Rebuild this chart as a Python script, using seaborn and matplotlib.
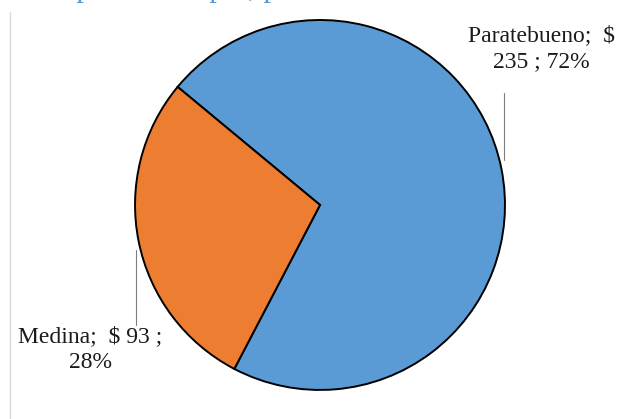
import numpy as np
import matplotlib.pyplot as plt
import seaborn as sns

# Data
municipios = ['Paratebueno', 'Medina']
valores = [235, 93]
colores = ['#5B9BD5', '#ED7D31']
titulo = 'Recaudo por municipio, periodo'

sns.set_style('white')
plt.rcParams['font.family'] = ['Liberation Serif', 'DejaVu Serif']

fig = plt.figure(figsize=(6.23, 4.19), dpi=100)
ax = fig.add_axes([0, 0, 1, 1])

total = sum(valores)
pct = [round(v / total * 100) for v in valores]

wedges, _ = ax.pie(valores, colors=colores, startangle=-117.6, counterclock=True,
                   wedgeprops=dict(edgecolor='black', linewidth=1.4), radius=1.0)

ax.set_xlim(-1.730, 1.638)
ax.set_ylim(-1.157, 1.108)
ax.set_aspect('equal')
ax.axis('off')

# etiquetas de datos
ax.text(1.195, 0.844, f'{municipios[0]};  $\n{valores[0]} ; {pct[0]}%',
        ha='center', va='center', fontsize=17, color='#1a1a1a', linespacing=1.35)
ax.text(-1.243, -0.782, f'{municipios[1]};  $ {valores[1]} ;\n{pct[1]}%',
        ha='center', va='center', fontsize=17, color='#1a1a1a', linespacing=1.35)

# lineas guia
ax.plot([0.995, 0.995], [0.605, 0.243], color='#7f7f7f', lw=0.8)
ax.plot([-0.995, -0.995], [-0.243, -0.649], color='#7f7f7f', lw=0.8)

# borde izquierdo del area del grafico
fig.add_artist(plt.Line2D([9.5 / 623, 9.5 / 623], [0, 1 - 12 / 419],
                          color='#d9d9d9', lw=1.0))

# titulo recortado arriba (solo se ven los trazos descendentes)
r = fig.canvas.get_renderer()
tmp = fig.text(0, 0, 'Recaudo ', fontsize=22)
w = tmp.get_window_extent(r).width
tmp.remove()
fig.text((76 - w) / 623, 1.0105, titulo,
         ha='left', va='baseline', fontsize=22, color='#5B9BD5')

fig.savefig('out.png', dpi=100)
